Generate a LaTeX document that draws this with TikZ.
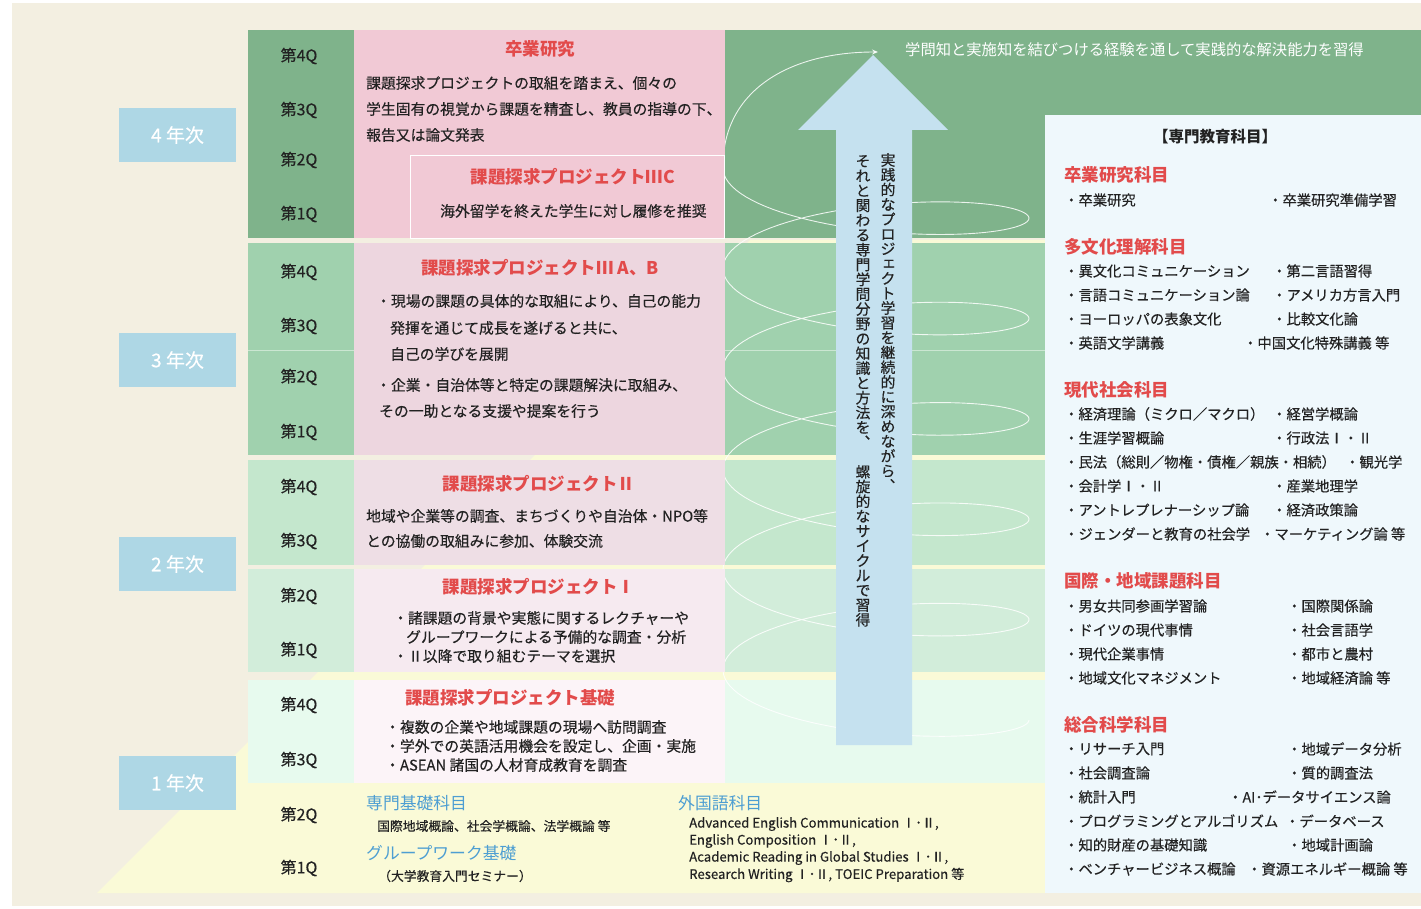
\documentclass[tikz,border=0pt]{standalone}
\usepackage{fontspec}
\setmainfont{Noto Sans CJK JP}
\newfontfamily\medfont[FakeBold=0.35]{Noto Sans CJK JP}
\usetikzlibrary{arrows.meta}
\definecolor{beige}{HTML}{F3EFE1}
\definecolor{yel}{HTML}{FAFAD7}
\definecolor{gfour}{HTML}{7FB38B}
\definecolor{gthree}{HTML}{A0D1AE}
\definecolor{gtwoa}{HTML}{C4E7CD}
\definecolor{gtwob}{HTML}{D2EDDA}
\definecolor{gone}{HTML}{E7FAEE}
\definecolor{pfour}{HTML}{F1C9D5}
\definecolor{pthree}{HTML}{EDD6DF}
\definecolor{ptwoa}{HTML}{EEDEE5}
\definecolor{ptwob}{HTML}{F6EAF0}
\definecolor{pone}{HTML}{FCF4F8}
\definecolor{yearblue}{HTML}{AED7E5}
\definecolor{arrowblue}{HTML}{C5E1EF}
\definecolor{panel}{HTML}{EFF8FC}
\definecolor{redh}{HTML}{E24B4B}
\definecolor{blueh}{HTML}{4D9ED2}
\definecolor{txt}{HTML}{222222}
\newcommand\vsmall[1]{\makebox[1em][c]{\hspace{0.12em}\smash{\raisebox{0.12em}{#1}}}}
\begin{document}
\begin{tikzpicture}[x=1pt,y=-1pt,
  yearbox/.style={fill=yearblue, text=white, minimum width=117pt, minimum height=54pt, inner sep=0pt, font=\medfont\fontsize{19}{22}\selectfont},
  qlabel/.style={inner sep=0pt, text=txt, font=\medfont\fontsize{16}{18}\selectfont},
  body/.style={anchor=west, inner sep=0pt, text=txt, font=\medfont\fontsize{14.8}{17}\selectfont},
  phead/.style={inner sep=0pt, text=redh, font=\bfseries\fontsize{17.5}{20}\selectfont},
  rhead/.style={anchor=west, inner sep=0pt, text=redh, font=\bfseries\fontsize{17.5}{20}\selectfont},
  item/.style={anchor=west, inner sep=0pt, text=txt, font=\medfont\fontsize{14.3}{17}\selectfont},
  bhead/.style={anchor=west, inner sep=0pt, text=blueh, font=\fontsize{16.8}{19}\selectfont},
  small/.style={anchor=west, inner sep=0pt, text=txt, font=\medfont\fontsize{12.8}{14}\selectfont},
  eng/.style={anchor=west, inner sep=0pt, text=txt, font=\medfont\fontsize{13.2}{15}\selectfont},
  tate/.style={anchor=north, align=center, inner sep=0pt, text=txt, font=\medfont\fontsize{14.8}{14.8}\selectfont},
  helix/.style={white, line width=0.9pt, opacity=0.85}
]
\useasboundingbox (0,0) rectangle (1421,909);
\fill[white] (0,0) rectangle (1421,909);
\fill[beige] (12,3) rectangle (1421,906);
\fill[yel] (97,893) -- (1045,893) -- (1045,240) -- (750,240) -- cycle;

% bands
\fill[gfour] (248,30) rectangle (1421,238);
\fill[gthree] (248,243) rectangle (1045,455);
\draw[gthree!55!white, line width=1pt] (248,350) -- (1045,350);
\fill[gtwoa] (248,460) rectangle (1045,565);
\fill[gtwob] (248,569) rectangle (1045,672);
\fill[gone] (248,680) rectangle (1045,783);

% spiral
\coordinate (hs) at (723,166);
\coordinate (ht) at (878,52);
\draw[helix] plot[domain=0:1980, samples=500, variable=\t] ({876+153*cos(\t)}, {720-0.2788*\t+38*sin(\t)});
\draw[helix, -{Stealth[length=6pt,width=5pt]}] (hs) .. controls (723,90) and (790,52) .. (ht);

% pink boxes
\fill[pfour] (354,30) rectangle (725,238);
\draw[white, line width=0.8pt] (410,155) rectangle (724,238);
\fill[pthree] (354,243) rectangle (725,455);
\fill[ptwoa] (354,460) rectangle (725,565);
\fill[ptwob] (354,569) rectangle (725,672);
\fill[pone] (354,680) rectangle (725,783);

% right panel
\fill[panel] (1045,115) rectangle (1421,893);

% big arrow
\fill[arrowblue] (836,745) -- (836,130) -- (798,130) -- (873,55) -- (948,130) -- (912,130) -- (912,745) -- cycle;
\node[tate] (va) at (888,153) {実\\践\\的\\な\\プ\\ロ\\ジ\\\vsmall{ェ}\\ク\\ト\\学\\習\\を\\継\\続\\的\\に\\深\\め\\な\\が\\ら\\︑};
\node[tate] (vb) at (863,155) {そ\\れ\\と\\関\\わ\\る\\専\\門\\学\\問\\分\\野\\の\\知\\識\\と\\方\\法\\を\\︑\\[14.8pt]螺\\旋\\的\\な\\サ\\イ\\ク\\ル\\で\\習\\得};

% top text
\node[anchor=west, inner sep=0pt, text=white, font=\fontsize{15.3}{17}\selectfont] (toptext) at (905,50) {学問知と実施知を結びつける経験を通して実践的な解決能力を習得};

% year labels
\node[yearbox] (y4) at (177.5,135) {4 年次};
\node[yearbox] (y3) at (177.5,360) {3 年次};
\node[yearbox] (y2) at (177.5,564) {2 年次};
\node[yearbox] (y1) at (177.5,783) {1 年次};

% quarter labels
\node[qlabel] (q44) at (299,56) {第4Q};
\node[qlabel] (q43) at (299,110) {第3Q};
\node[qlabel] (q42) at (299,160) {第2Q};
\node[qlabel] (q41) at (299,214) {第1Q};
\node[qlabel] (q34) at (299,272) {第4Q};
\node[qlabel] (q33) at (299,326) {第3Q};
\node[qlabel] (q32) at (299,377) {第2Q};
\node[qlabel] (q31) at (299,432) {第1Q};
\node[qlabel] (q24) at (299,487) {第4Q};
\node[qlabel] (q23) at (299,541) {第3Q};
\node[qlabel] (q22) at (299,596) {第2Q};
\node[qlabel] (q21) at (299,650) {第1Q};
\node[qlabel] (q14) at (299,705) {第4Q};
\node[qlabel] (q13) at (299,760) {第3Q};
\node[qlabel] (q12) at (299,815) {第2Q};
\node[qlabel] (q11) at (299,868) {第1Q};

% year 4 box
\node[phead] (h4) at (540,49) {卒業研究};
\node[body] (b4a) at (366,83) {課題探求プロジェクトの取組を踏まえ、個々の};
\node[body] (b4b) at (366,109) {学生固有の視覚から課題を精査し、教員の指導の下、};
\node[body] (b4c) at (366,135) {報告又は論文発表};
\node[phead] (h4c) at (573,177) {課題探求プロジェクトⅢC};
\node[body] (b4d) at (440,211) {海外留学を終えた学生に対し履修を推奨};

% year 3 box
\node[phead] (h3) at (540,268) {課題探求プロジェクトⅢ A、B};
\node[body] (b3a) at (376,301) {・現場の課題の具体的な取組により、自己の能力};
\node[body] (b3b) at (390,328) {発揮を通じて成長を遂げると共に、};
\node[body] (b3c) at (390,354) {自己の学びを展開};
\node[body] (b3d) at (376,385) {・企業・自治体等と特定の課題解決に取組み、};
\node[body] (b3e) at (379,411) {その一助となる支援や提案を行う};

% year 2 boxes
\node[phead] (h2a) at (539,484) {課題探求プロジェクトⅡ};
\node[body] (b2a) at (366,516) {地域や企業等の調査、まちづくりや自治体・NPO等};
\node[body] (b2b) at (366,541) {との協働の取組みに参加、体験交流};
\node[phead] (h2b) at (539,587) {課題探求プロジェクトⅠ};
\node[body] (b2c) at (393,618) {・諸課題の背景や実態に関するレクチャーや};
\node[body] (b2d) at (406,637) {グループワークによる予備的な調査・分析};
\node[body] (b2e) at (393,656) {・Ⅱ以降で取り組むテーマを選択};

% year 1 box
\node[phead] (h1) at (510,698) {課題探求プロジェクト基礎};
\node[body] (b1a) at (385,727) {・複数の企業や地域課題の現場へ訪問調査};
\node[body] (b1b) at (385,746) {・学外での英語活用機会を設定し、企画・実施};
\node[body] (b1c) at (385,765) {・ASEAN 諸国の人材育成教育を調査};

% bottom yellow area
\node[bhead] (k1) at (366,803) {専門基礎科目};
\node[small] (k1a) at (377,826) {国際地域概論、社会学概論、法学概論 等};
\node[bhead] (k2) at (366,853) {グループワーク基礎};
\node[small] (k2a) at (378,876) {（大学教育入門セミナー）};
\node[bhead] (k3) at (678,803) {外国語科目};
\node[eng] (k3a) at (689,824) {Advanced English Communication Ⅰ･Ⅱ,};
\node[eng] (k3b) at (689,841) {English Composition Ⅰ･Ⅱ,};
\node[eng] (k3c) at (689,858) {Academic Reading in Global Studies Ⅰ･Ⅱ,};
\node[eng] (k3d) at (689,875) {Research Writing Ⅰ･Ⅱ, TOEIC Preparation 等};

% right panel text
\node[inner sep=0pt, text=txt, font=\bfseries\fontsize{15.5}{18}\selectfont] (ptitle) at (1215,137) {【専門教育科目】};
\node[rhead] (s1) at (1064,175) {卒業研究科目};
\node[item] (s1a) at (1064,200) {・卒業研究};
\node[item] (s1b) at (1268,200) {・卒業研究準備学習};

\node[rhead] (s2) at (1064,247) {多文化理解科目};
\node[item] (s2a) at (1064,271) {・異文化コミュニケーション};
\node[item] (s2b) at (1272,271) {・第二言語習得};
\node[item] (s2c) at (1064,295) {・言語コミュニケーション論};
\node[item] (s2d) at (1272,295) {・アメリカ方言入門};
\node[item] (s2e) at (1064,319) {・ヨーロッパの表象文化};
\node[item] (s2f) at (1272,319) {・比較文化論};
\node[item] (s2g) at (1064,343) {・英語文学講義};
\node[item] (s2h) at (1243,343) {・中国文化特殊講義 等};

\node[rhead] (s3) at (1064,390) {現代社会科目};
\node[item] (s3a) at (1064,414) {・経済理論（ミクロ／マクロ）};
\node[item] (s3b) at (1272,414) {・経営学概論};
\node[item] (s3c) at (1064,438) {・生涯学習概論};
\node[item] (s3d) at (1272,438) {・行政法Ⅰ・Ⅱ};
\node[item] (s3e) at (1064,462) {・民法（総則／物権・債権／親族・相続）};
\node[item] (s3f) at (1345,462) {・観光学};
\node[item] (s3g) at (1064,486) {・会計学Ⅰ・Ⅱ};
\node[item] (s3h) at (1272,486) {・産業地理学};
\node[item] (s3i) at (1064,510) {・アントレプレナーシップ論};
\node[item] (s3j) at (1272,510) {・経済政策論};
\node[item] (s3k) at (1064,534) {・ジェンダーと教育の社会学};
\node[item] (s3l) at (1260,534) {・マーケティング論 等};

\node[rhead] (s4) at (1064,581) {国際・地域課題科目};
\node[item] (s4a) at (1064,606) {・男女共同参画学習論};
\node[item] (s4b) at (1287,606) {・国際関係論};
\node[item] (s4c) at (1064,630) {・ドイツの現代事情};
\node[item] (s4d) at (1287,630) {・社会言語学};
\node[item] (s4e) at (1064,654) {・現代企業事情};
\node[item] (s4f) at (1287,654) {・都市と農村};
\node[item] (s4g) at (1064,678) {・地域文化マネジメント};
\node[item] (s4h) at (1287,678) {・地域経済論 等};

\node[rhead] (s5) at (1064,725) {総合科学科目};
\node[item] (s5a) at (1064,749) {・リサーチ入門};
\node[item] (s5b) at (1287,749) {・地域データ分析};
\node[item] (s5c) at (1064,773) {・社会調査論};
\node[item] (s5d) at (1287,773) {・質的調査法};
\node[item] (s5e) at (1064,797) {・統計入門};
\node[item] (s5f) at (1228,797) {・AI･データサイエンス論};
\node[item] (s5g) at (1064,821) {・プログラミングとアルゴリズム};
\node[item] (s5h) at (1285,821) {・データベース};
\node[item] (s5i) at (1064,845) {・知的財産の基礎知識};
\node[item] (s5j) at (1287,845) {・地域計画論};
\node[item] (s5k) at (1064,869) {・ベンチャービジネス概論};
\node[item] (s5l) at (1247,869) {・資源エネルギー概論 等};
\end{tikzpicture}
\end{document}
